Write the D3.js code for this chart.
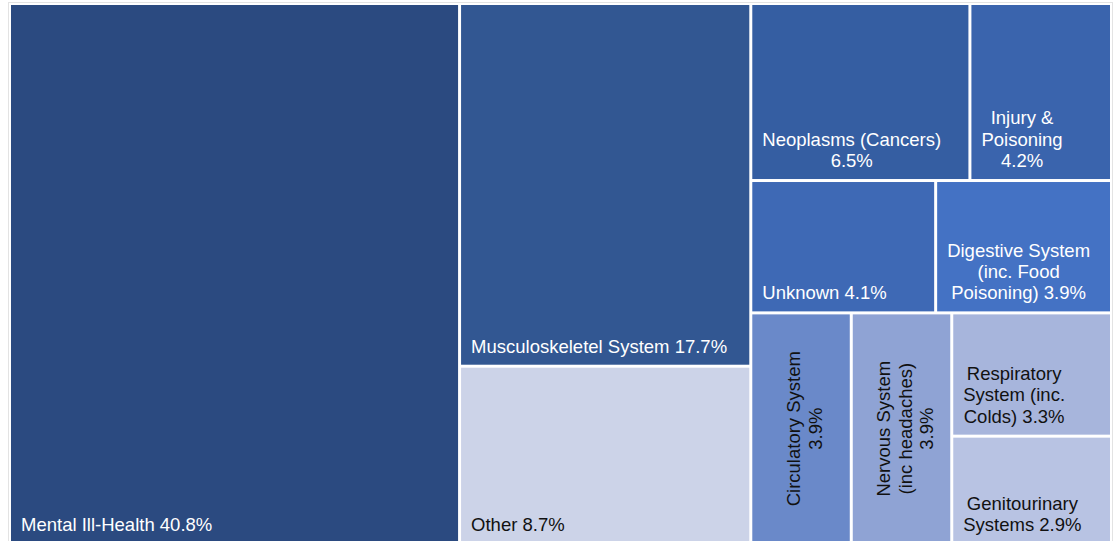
<!DOCTYPE html>
<html>
<head>
<meta charset="utf-8">
<script src="https://cdn.jsdelivr.net/npm/d3@7"></script>
<style>
  html, body { margin: 0; padding: 0; background: #fff; }
  svg { display: block; }
  text { font-family: "Liberation Sans", Arial, sans-serif; font-size: 18.5px; }
</style>
</head>
<body>
<svg id="chart" width="1117" height="541"></svg>
<script>
// Sickness absence by cause (% of days lost).
// "|" marks a line break in the tile label; a trailing "|" puts the value on its own line.
const categories = [
  "Mental Ill-Health",
  "Musculoskeletel System",
  "Other",
  "Neoplasms (Cancers)|",
  "Injury &|Poisoning|",
  "Unknown",
  "Digestive System|(inc. Food|Poisoning)",
  "Circulatory System|",
  "Nervous System|(inc headaches)|",
  "Respiratory|System (inc.|Colds)",
  "Genitourinary|Systems"
];
const shares = [40.8, 17.7, 8.7, 6.5, 4.2, 4.1, 3.9, 3.9, 3.9, 3.3, 2.9];
const fills = [
  "#2b4a80", "#325792", "#ccd3e8", "#355ea2", "#3a64ad", "#3e69b5",
  "#4472c4", "#6a89c9", "#8fa3d4", "#a7b5dc", "#b8c3e3"
];
const darkText = ["Other", "Circulatory System", "Nervous System (inc headaches)",
  "Respiratory System (inc. Colds)", "Genitourinary Systems"];

// Nesting of tiles: columns, then rows inside the last column.
const tileGroups = [
  [0],
  [1, 2],
  [[3, 4], [5, 6], [7, 8, [9, 10]]]
];

const cleanName = s => s.replace(/\|/g, " ").replace(/\s+/g, " ").trim();

function buildNode(item) {
  if (Array.isArray(item)) {
    if (item.length === 1 && !Array.isArray(item[0])) return buildNode(item[0]);
    return { children: item.map(buildNode) };
  }
  return { idx: item, name: cleanName(categories[item]), value: shares[item] };
}

const root = d3.hierarchy({ children: tileGroups.map(buildNode) })
  .sum(d => d.value || 0);

const X0 = 11, Y0 = 5, X1 = 1110, Y1 = 543;

d3.treemap()
  .tile(d3.treemapSliceDice)
  .size([X1 - X0, Y1 - Y0])
  .paddingInner(3)(root);

const svg = d3.select("#chart");

// chart area frame
svg.append("rect")
  .attr("x", 8.5).attr("y", 2.5)
  .attr("width", 1104).attr("height", 545)
  .attr("fill", "#fff")
  .attr("stroke", "#e3e3e3")
  .attr("stroke-width", 1);

const g = svg.append("g").attr("transform", `translate(${X0},${Y0})`);

const leaves = root.leaves();

const cell = g.selectAll("g.cell")
  .data(leaves)
  .join("g")
  .attr("class", "cell");

cell.append("rect")
  .attr("x", d => d.x0)
  .attr("y", d => d.y0)
  .attr("width", d => d.x1 - d.x0)
  .attr("height", d => d.y1 - d.y0)
  .attr("fill", d => fills[d.data.idx]);

const lineH = 21.4;

function labelLines(d) {
  const parts = categories[d.data.idx].split("|");
  const val = d3.format(".1f")(d.data.value) + "%";
  const last = parts.length - 1;
  if (parts[last] === "") parts[last] = val;
  else parts[last] = parts[last] + " " + val;
  return parts;
}

cell.each(function (d) {
  const sel = d3.select(this);
  const lines = labelLines(d);
  const color = darkText.includes(d.data.name) ? "#111" : "#fff";
  const w = d.x1 - d.x0, h = d.y1 - d.y0;
  const n = lines.length;

  if (w < 120 && h > w) {
    // narrow tall tiles: label rotated, centred on the tile
    const cx = (d.x0 + d.x1) / 2, cy = (d.y0 + d.y1) / 2;
    const t = sel.append("text")
      .attr("transform", `translate(${cx},${cy}) rotate(-90)`)
      .attr("fill", color)
      .attr("text-anchor", "middle");
    lines.forEach((ln, i) => {
      t.append("tspan")
        .attr("x", 0)
        .attr("y", (i - (n - 1) / 2) * lineH + 10)
        .text(ln);
    });
  } else {
    // label block sits at bottom-left, lines centred within the block
    const t = sel.append("text")
      .attr("fill", color)
      .attr("text-anchor", "middle");
    const spans = lines.map((ln, i) =>
      t.append("tspan").attr("y", d.y1 - 12 - (n - 1 - i) * lineH).text(ln));
    const blockW = d3.max(spans, s => s.node().getComputedTextLength());
    spans.forEach(s => s.attr("x", d.x0 + 10 + blockW / 2));
  }
});
</script>
</body>
</html>
